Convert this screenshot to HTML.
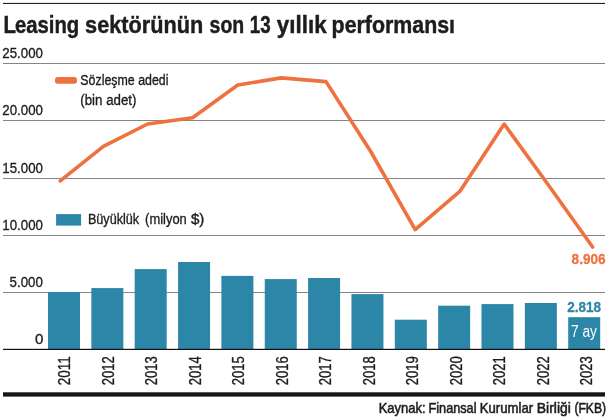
<!DOCTYPE html>
<html lang="tr"><head><meta charset="utf-8"><title>Leasing sektörünün son 13 yıllık performansı</title>
<style>
html,body{margin:0;padding:0;background:#fff}
svg{display:block}
text{font-family:"Liberation Sans",sans-serif;fill:#1d1d1b}
.m{stroke:#1d1d1b;stroke-width:.35}
.t{stroke:#1d1d1b;stroke-width:.45}
.f{stroke:#1d1d1b;stroke-width:.55}
</style></head><body>
<svg width="613" height="419" viewBox="0 0 613 419">
<rect width="613" height="419" fill="#fff"/>
<rect x="3" y="2.9" width="602" height="1.1" fill="#222"/>
<text y="32.8" class="t" font-size="24.6" font-weight="bold"><tspan x="3.4" font-size="23.2" textLength="12.5" lengthAdjust="spacingAndGlyphs">L</tspan><tspan x="14.9" textLength="64.3" lengthAdjust="spacingAndGlyphs">easing</tspan> <tspan x="85.1" textLength="118.1" lengthAdjust="spacingAndGlyphs">sektörünün</tspan> <tspan x="209.6" textLength="34.6" lengthAdjust="spacingAndGlyphs">son</tspan> <tspan x="249.8" font-size="23.2" textLength="20.9" lengthAdjust="spacingAndGlyphs">13</tspan> <tspan x="276.8" textLength="49.8" lengthAdjust="spacingAndGlyphs">yıllık</tspan> <tspan x="331.6" textLength="123.4" lengthAdjust="spacingAndGlyphs">performansı</tspan></text>

<rect x="3" y="63.0" width="602" height="1" fill="#858585"/>
<rect x="3" y="120.0" width="602" height="1" fill="#858585"/>
<rect x="3" y="178.0" width="602" height="1" fill="#858585"/>
<rect x="3" y="235.0" width="602" height="1" fill="#858585"/>
<rect x="3" y="292.0" width="602" height="1" fill="#858585"/>
<rect x="48.00" y="292.0" width="32.0" height="57.4" fill="#2b86a8"/>
<rect x="91.35" y="288.1" width="32.0" height="61.3" fill="#2b86a8"/>
<rect x="134.70" y="269.1" width="32.0" height="80.3" fill="#2b86a8"/>
<rect x="178.05" y="262.0" width="32.0" height="87.4" fill="#2b86a8"/>
<rect x="221.40" y="275.9" width="32.0" height="73.5" fill="#2b86a8"/>
<rect x="264.75" y="279.1" width="32.0" height="70.3" fill="#2b86a8"/>
<rect x="308.10" y="278.0" width="32.0" height="71.4" fill="#2b86a8"/>
<rect x="351.45" y="294.1" width="32.0" height="55.3" fill="#2b86a8"/>
<rect x="394.80" y="319.7" width="32.0" height="29.7" fill="#2b86a8"/>
<rect x="438.15" y="305.7" width="32.0" height="43.7" fill="#2b86a8"/>
<rect x="481.50" y="304.1" width="32.0" height="45.3" fill="#2b86a8"/>
<rect x="524.85" y="303.0" width="32.0" height="46.4" fill="#2b86a8"/>
<rect x="568.20" y="317.2" width="32.0" height="32.2" fill="#2b86a8"/>
<rect x="3" y="348.8" width="602" height="1.2" fill="#111"/>
<text class="m" x="2.3" y="57.7" font-size="15.4" textLength="40.6" lengthAdjust="spacingAndGlyphs">25.000</text>
<text class="m" x="2.3" y="114.7" font-size="15.4" textLength="40.6" lengthAdjust="spacingAndGlyphs">20.000</text>
<text class="m" x="2.3" y="172.7" font-size="15.4" textLength="40.6" lengthAdjust="spacingAndGlyphs">15.000</text>
<text class="m" x="2.3" y="229.7" font-size="15.4" textLength="40.6" lengthAdjust="spacingAndGlyphs">10.000</text>
<text class="m" x="9.6" y="286.7" font-size="15.4" textLength="33.3" lengthAdjust="spacingAndGlyphs">5.000</text>
<text class="m" x="34.9" y="343.8" font-size="15.4" textLength="8.4" lengthAdjust="spacingAndGlyphs">0</text>
<polyline points="60.2,180.8 103.4,146.3 147.6,124.0 192.6,117.7 237.8,85 281.2,77.9 326,81.6 371,152 415.2,229.6 459.8,191.4 504.2,124.1 548,184.5 592.6,247.0" fill="none" stroke="#ee7140" stroke-width="3.6" stroke-linejoin="round" stroke-linecap="round"/>
<rect x="55" y="77" width="22" height="6.8" rx="2.8" fill="#ee7140"/>
<text class="m" x="80.3" y="85" font-size="14.7" textLength="88.2" lengthAdjust="spacingAndGlyphs">Sözleşme adedi</text>
<text class="m" x="80.3" y="104.5" font-size="14.7" textLength="56.2" lengthAdjust="spacingAndGlyphs">(bin adet)</text>
<rect x="56.1" y="214.1" width="25" height="11.5" fill="#2b86a8"/>
<text class="m" y="223.6" font-size="14.4"><tspan x="87.9" textLength="51.3" lengthAdjust="spacingAndGlyphs">Büyüklük</tspan> <tspan x="145.1" textLength="41.7" lengthAdjust="spacingAndGlyphs">(milyon</tspan> <tspan x="190.9" textLength="13.5" lengthAdjust="spacingAndGlyphs">$)</tspan></text>
<text x="571.6" y="264.1" font-size="15.3" font-weight="bold" style="fill:#ee7140;stroke:#ee7140;stroke-width:.3" textLength="34.0" lengthAdjust="spacingAndGlyphs">8.906</text>
<text x="567.3" y="311.6" font-size="15.4" font-weight="bold" style="fill:#2b86a8;stroke:#2b86a8;stroke-width:.3" textLength="33.8" lengthAdjust="spacingAndGlyphs">2.818</text>
<text x="571.0" y="336.6" font-size="15.6" style="fill:#fff" textLength="26" lengthAdjust="spacingAndGlyphs">7 ay</text>
<text class="m" transform="translate(70.20,385.2) rotate(-90)" font-size="16.3" textLength="29" lengthAdjust="spacingAndGlyphs">2011</text>
<text class="m" transform="translate(113.71,385.2) rotate(-90)" font-size="16.3" textLength="29" lengthAdjust="spacingAndGlyphs">2012</text>
<text class="m" transform="translate(157.22,385.2) rotate(-90)" font-size="16.3" textLength="29" lengthAdjust="spacingAndGlyphs">2013</text>
<text class="m" transform="translate(200.73,385.2) rotate(-90)" font-size="16.3" textLength="29" lengthAdjust="spacingAndGlyphs">2014</text>
<text class="m" transform="translate(244.24,385.2) rotate(-90)" font-size="16.3" textLength="29" lengthAdjust="spacingAndGlyphs">2015</text>
<text class="m" transform="translate(287.75,385.2) rotate(-90)" font-size="16.3" textLength="29" lengthAdjust="spacingAndGlyphs">2016</text>
<text class="m" transform="translate(331.26,385.2) rotate(-90)" font-size="16.3" textLength="29" lengthAdjust="spacingAndGlyphs">2017</text>
<text class="m" transform="translate(374.77,385.2) rotate(-90)" font-size="16.3" textLength="29" lengthAdjust="spacingAndGlyphs">2018</text>
<text class="m" transform="translate(418.28,385.2) rotate(-90)" font-size="16.3" textLength="29" lengthAdjust="spacingAndGlyphs">2019</text>
<text class="m" transform="translate(461.79,385.2) rotate(-90)" font-size="16.3" textLength="29" lengthAdjust="spacingAndGlyphs">2020</text>
<text class="m" transform="translate(505.30,385.2) rotate(-90)" font-size="16.3" textLength="29" lengthAdjust="spacingAndGlyphs">2021</text>
<text class="m" transform="translate(548.81,385.2) rotate(-90)" font-size="16.3" textLength="29" lengthAdjust="spacingAndGlyphs">2022</text>
<text class="m" transform="translate(592.32,385.2) rotate(-90)" font-size="16.3" textLength="29" lengthAdjust="spacingAndGlyphs">2023</text>
<rect x="3" y="392.3" width="602" height="4.3" fill="#161616"/>
<text class="f" y="413.2" font-size="14.2"><tspan x="378.7" textLength="46.9" lengthAdjust="spacingAndGlyphs">Kaynak:</tspan> <tspan x="428.5" textLength="48.0" lengthAdjust="spacingAndGlyphs">Finansal</tspan> <tspan x="479.8" textLength="53.3" lengthAdjust="spacingAndGlyphs">Kurumlar</tspan> <tspan x="536.8" textLength="34.1" lengthAdjust="spacingAndGlyphs">Birliği</tspan> <tspan x="574.4" textLength="31.7" lengthAdjust="spacingAndGlyphs">(FKB)</tspan></text>
</svg></body></html>
